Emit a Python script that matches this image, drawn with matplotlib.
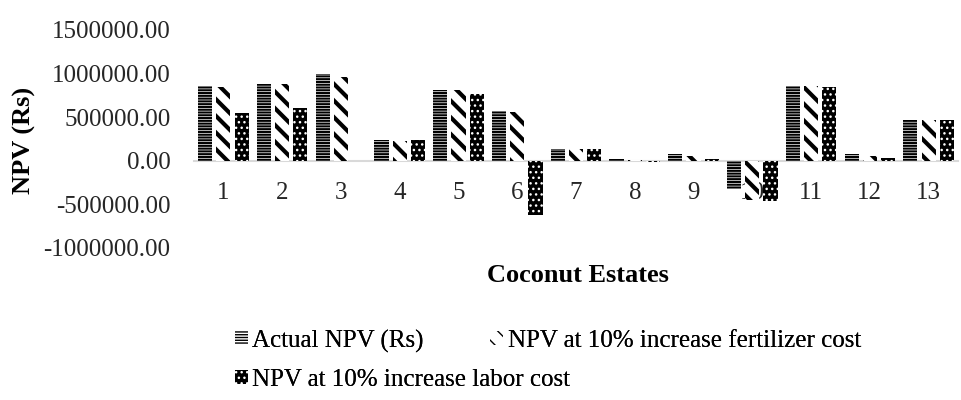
import numpy as np
import matplotlib
matplotlib.use("Agg")
import matplotlib.pyplot as plt

# NPV values (Rs) per coconut estate
estates = np.arange(1, 14)
tick_labels = [str(i) for i in estates]
actual_npv = [855000, 885000, 990000, 235000, 815000, 575000, 130000, 20000, 75000, -325000, 860000, 75000, 470000]
fert_npv = [850000, 880000, 965000, 230000, 815000, 565000, 140000, 5000, 55000, -455000, 860000, 50000, 470000]
labor_npv = [545000, 610000, 0, 235000, 770000, -620000, 130000, -15000, 25000, -460000, 845000, 35000, 470000]
series_names = ["Actual NPV (Rs)", "NPV at 10% increase fertilizer cost",
                "NPV at 10% increase labor cost"]

plt.rcParams["font.family"] = ["Liberation Serif", "DejaVu Serif"]

W, H = 961, 400
fig = plt.figure(figsize=(W / 100, H / 100), dpi=100)
ax = fig.add_axes([194 / W, 1 - 248 / H, (958 - 194) / W, (248 - 30) / H])

off, bw = 0.31, 0.24
styles = [
    dict(facecolor="white", edgecolor="black", hatch="------", hlw=1.5),
    dict(facecolor="white", edgecolor="black", hatch="\\\\", hlw=3.0),
    dict(facecolor="black", edgecolor="white", hatch="...", hlw=1.0),
]
handles = []
for k, (vals, st) in enumerate(zip([actual_npv, fert_npv, labor_npv], styles)):
    plt.rcParams["hatch.linewidth"] = st["hlw"]
    bars = ax.bar(estates + (k - 1) * off, vals, width=bw, facecolor=st["facecolor"],
                  edgecolor=st["edgecolor"], hatch=st["hatch"], linewidth=0,
                  zorder=3, label=series_names[k])
    for p in bars:
        if hasattr(p, "set_hatch_linewidth"):
            p.set_hatch_linewidth(st["hlw"])
    handles.append(bars)

ax.set_xlim(0.5, 13.5)
ax.set_ylim(-1000000, 1500000)
ax.set_yticks(np.arange(-1000000, 1500001, 500000))
ax.yaxis.set_major_formatter(matplotlib.ticker.FuncFormatter(lambda v, _: f"{v:.2f}"))
ax.set_xticks(estates)
ax.set_xticklabels(tick_labels)
ax.tick_params(axis="y", length=0, pad=17, labelsize=18, labelcolor="#262626")
ax.tick_params(axis="x", length=0, pad=15, labelsize=18, labelcolor="#262626")
for s in ["top", "right", "left"]:
    ax.spines[s].set_visible(False)
ax.spines["bottom"].set_position(("data", 0))
ax.spines["bottom"].set_color("#d9d9d9")
ax.spines["bottom"].set_linewidth(1.5)
ax.spines["bottom"].set_zorder(2)

fig.text(24 / W, 1 - 140 / H, "NPV (Rs)", rotation=90, ha="center", va="center",
         fontsize=19, fontweight="bold")
fig.text(578 / W, 1 - 276 / H, "Coconut Estates", ha="center", va="center",
         fontsize=19, fontweight="bold")

# legend entries laid out like the original (two per row)
spots = [(235, 341), (490, 341), (235, 380)]
for h, name, (x, y) in zip(handles, series_names, spots):
    lg = fig.legend([h], [name], loc="center left", bbox_to_anchor=(x / W, 1 - y / H),
                    frameon=False, fontsize=18, handlelength=0.5, handleheight=0.5,
                    handletextpad=0.2, borderpad=0, borderaxespad=0)
    fig.add_artist(lg)

fig.savefig("out.png", dpi=100)
